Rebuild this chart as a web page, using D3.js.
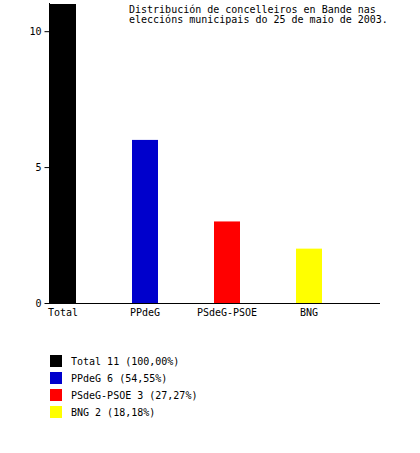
<!DOCTYPE html>
<html><head><meta charset="utf-8">
<script src="https://cdn.jsdelivr.net/npm/d3@7"></script>
<style>body{margin:0;background:#fff}svg{display:block}text{font-family:"DejaVu Sans Mono",monospace;font-size:10px;fill:#000}</style>
</head><body>
<script>
const categories = ["Total", "PPdeG", "PSdeG-PSOE", "BNG"];
const values = [11, 6, 3, 2];
const percents = ["100,00%", "54,55%", "27,27%", "18,18%"];
const colors = ["#000000", "#0000cc", "#ff0000", "#ffff00"];
const yTicks = [0, 5, 10];
const titleLines = ["Distribución de concelleiros en Bande nas", "eleccións municipais do 25 de maio de 2003."];

const W = 420, H = 453;
const svg = d3.select("body").append("svg").attr("width", W).attr("height", H);

const y = d3.scaleLinear().domain([0, 11]).range([303, 4]);
const pin = 56 / 82;
const x = d3.scaleBand().domain(categories).range([50, 50 + 82 * (categories.length - pin)]).paddingInner(pin).paddingOuter(0);

svg.selectAll("rect.bar").data(values).enter().append("rect")
  .attr("class", "bar")
  .attr("x", (d, i) => x(categories[i]))
  .attr("y", d => y(d))
  .attr("width", x.bandwidth())
  .attr("height", d => y(0) - y(d))
  .attr("fill", (d, i) => colors[i]);

// y axis
const ya = svg.append("g").attr("transform", "translate(49.5,0)")
  .call(d3.axisLeft(y).tickValues(yTicks).tickSize(5).tickPadding(3).tickFormat(d3.format("d")));
ya.select(".domain").attr("d", "M0," + 3 + "V" + y(0)).attr("stroke", "#000");
ya.selectAll("text").style("font-family", '"DejaVu Sans Mono",monospace').style("font-size", "10px");

// x axis
svg.append("line").attr("x1", 45).attr("x2", 380).attr("y1", y(0) + 0.5).attr("y2", y(0) + 0.5).attr("stroke", "#000");
svg.selectAll("text.cat").data(categories).enter().append("text")
  .attr("class", "cat")
  .attr("x", d => x(d) + x.bandwidth() / 2)
  .attr("y", 316)
  .attr("text-anchor", "middle")
  .text(d => d);

// title
svg.selectAll("text.title").data(titleLines).enter().append("text")
  .attr("class", "title")
  .attr("x", 129).attr("y", (d, i) => 13 + i * 9.5)
  .text(d => d);

// legend
const lg = svg.selectAll("g.leg").data(categories).enter().append("g")
  .attr("class", "leg")
  .attr("transform", (d, i) => "translate(50," + (355 + i * 17) + ")");
lg.append("rect").attr("width", 12).attr("height", 12).attr("fill", (d, i) => colors[i]);
lg.append("text").attr("x", 21).attr("y", 10)
  .text((d, i) => d + " " + values[i] + " (" + percents[i] + ")");
</script>
</body></html>
